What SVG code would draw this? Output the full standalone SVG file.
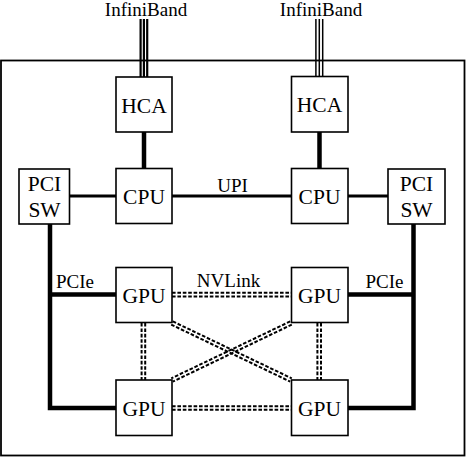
<svg xmlns="http://www.w3.org/2000/svg" width="466" height="458" viewBox="0 0 466 458">
<style>
.box{fill:#fff;stroke:#000;stroke-width:1.6}
.lbl{font-family:"Liberation Serif","Times New Roman",serif;font-size:21.5px;text-anchor:middle;fill:#000}
.elbl{font-family:"Liberation Serif","Times New Roman",serif;font-size:19px;text-anchor:middle;fill:#000}
.thick{stroke:#000;stroke-width:4.5;fill:none}
.mid{stroke:#000;stroke-width:3;fill:none}
.nv{stroke:#000;stroke-width:2;stroke-dasharray:3.6 1.8;fill:none}
.ib{stroke:#000;stroke-width:1.6;fill:none}
</style>
<rect x="1" y="60.5" width="463.5" height="395" fill="#fff" stroke="#000" stroke-width="1.8"/>
<g id="connectors">
  <g id="ib1">
    <line class="ib" x1="140.6" y1="19" x2="140.6" y2="77" style="stroke-width:2.2"/>
    <line class="ib" x1="143.9" y1="19" x2="143.9" y2="77" style="stroke-width:2.2"/>
    <line class="ib" x1="147.2" y1="19" x2="147.2" y2="77" style="stroke-width:2.2"/>
  </g>
  <g id="ib2">
    <line class="ib" x1="315.9" y1="19" x2="315.9" y2="77" style="stroke-width:1.5"/>
    <line class="ib" x1="319.3" y1="19" x2="319.3" y2="77" style="stroke-width:1.5"/>
    <line class="ib" x1="322.7" y1="19" x2="322.7" y2="77" style="stroke-width:1.5"/>
  </g>
  <line class="thick" x1="144" y1="132" x2="144" y2="168"/>
  <line class="thick" x1="319.5" y1="132" x2="319.5" y2="168"/>
  <line class="mid" x1="69" y1="196" x2="116" y2="196"/>
  <line class="mid" x1="348" y1="196" x2="388" y2="196"/>
  <line class="mid" x1="172" y1="196" x2="291" y2="196"/>
  <polyline class="thick" points="50,224 50,408 116,408"/>
  <line class="thick" x1="50" y1="294.5" x2="116" y2="294.5"/>
  <polyline class="thick" points="413.5,224 413.5,408 348,408"/>
  <line class="thick" x1="348" y1="294.5" x2="413.5" y2="294.5"/>
  <g id="nvlink">
    <line class="nv" x1="172" y1="292.8" x2="291" y2="292.8"/>
    <line class="nv" x1="172" y1="296.4" x2="291" y2="296.4"/>
    <line class="nv" x1="172" y1="406.2" x2="291" y2="406.2"/>
    <line class="nv" x1="172" y1="409.8" x2="291" y2="409.8"/>
    <line class="nv" x1="141.6" y1="323" x2="141.6" y2="380"/>
    <line class="nv" x1="145.2" y1="323" x2="145.2" y2="380"/>
    <line class="nv" x1="317.4" y1="323" x2="317.4" y2="380"/>
    <line class="nv" x1="321" y1="323" x2="321" y2="380"/>
    <line class="nv" x1="172.8" y1="321.4" x2="291.8" y2="378.4"/>
    <line class="nv" x1="171.2" y1="324.6" x2="290.2" y2="381.6"/>
    <line class="nv" x1="290.2" y1="321.4" x2="171.2" y2="378.4"/>
    <line class="nv" x1="291.8" y1="324.6" x2="172.8" y2="381.6"/>
  </g>
  <text class="elbl" x="232.5" y="191.5">UPI</text>
  <text class="elbl" x="75" y="287.5">PCIe</text>
  <text class="elbl" x="384.5" y="287.5">PCIe</text>
  <text class="elbl" x="228.5" y="286.5">NVLink</text>
  <text class="elbl" x="146" y="15.5">InfiniBand</text>
  <text class="elbl" x="321" y="15.5">InfiniBand</text>
</g>
<g id="hca1"><rect class="box" x="116" y="77" width="56" height="55"/><text class="lbl" x="144" y="112.5">HCA</text></g>
<g id="hca2"><rect class="box" x="291.5" y="76.5" width="56.5" height="55.5"/><text class="lbl" x="319.5" y="112">HCA</text></g>
<g id="cpu1"><rect class="box" x="116" y="168.5" width="56" height="55"/><text class="lbl" x="144" y="204">CPU</text></g>
<g id="cpu2"><rect class="box" x="291.5" y="168.5" width="56.5" height="55"/><text class="lbl" x="319.5" y="204">CPU</text></g>
<g id="pcisw1"><rect class="box" x="19" y="169" width="50.5" height="55"/><text class="lbl" x="44.5" y="190.5">PCI</text><text class="lbl" x="44.5" y="216.5">SW</text></g>
<g id="pcisw2"><rect class="box" x="388" y="169" width="57" height="55"/><text class="lbl" x="416.5" y="190.5">PCI</text><text class="lbl" x="416.5" y="216.5">SW</text></g>
<g id="gpu1"><rect class="box" x="116" y="267.5" width="56" height="55"/><text class="lbl" x="144" y="302.5">GPU</text></g>
<g id="gpu2"><rect class="box" x="291.5" y="267.5" width="56.5" height="55"/><text class="lbl" x="319.5" y="302.5">GPU</text></g>
<g id="gpu3"><rect class="box" x="116" y="380" width="56" height="55.5"/><text class="lbl" x="144" y="415.5">GPU</text></g>
<g id="gpu4"><rect class="box" x="291.5" y="380" width="56.5" height="55.5"/><text class="lbl" x="319.5" y="415.5">GPU</text></g>
</svg>
